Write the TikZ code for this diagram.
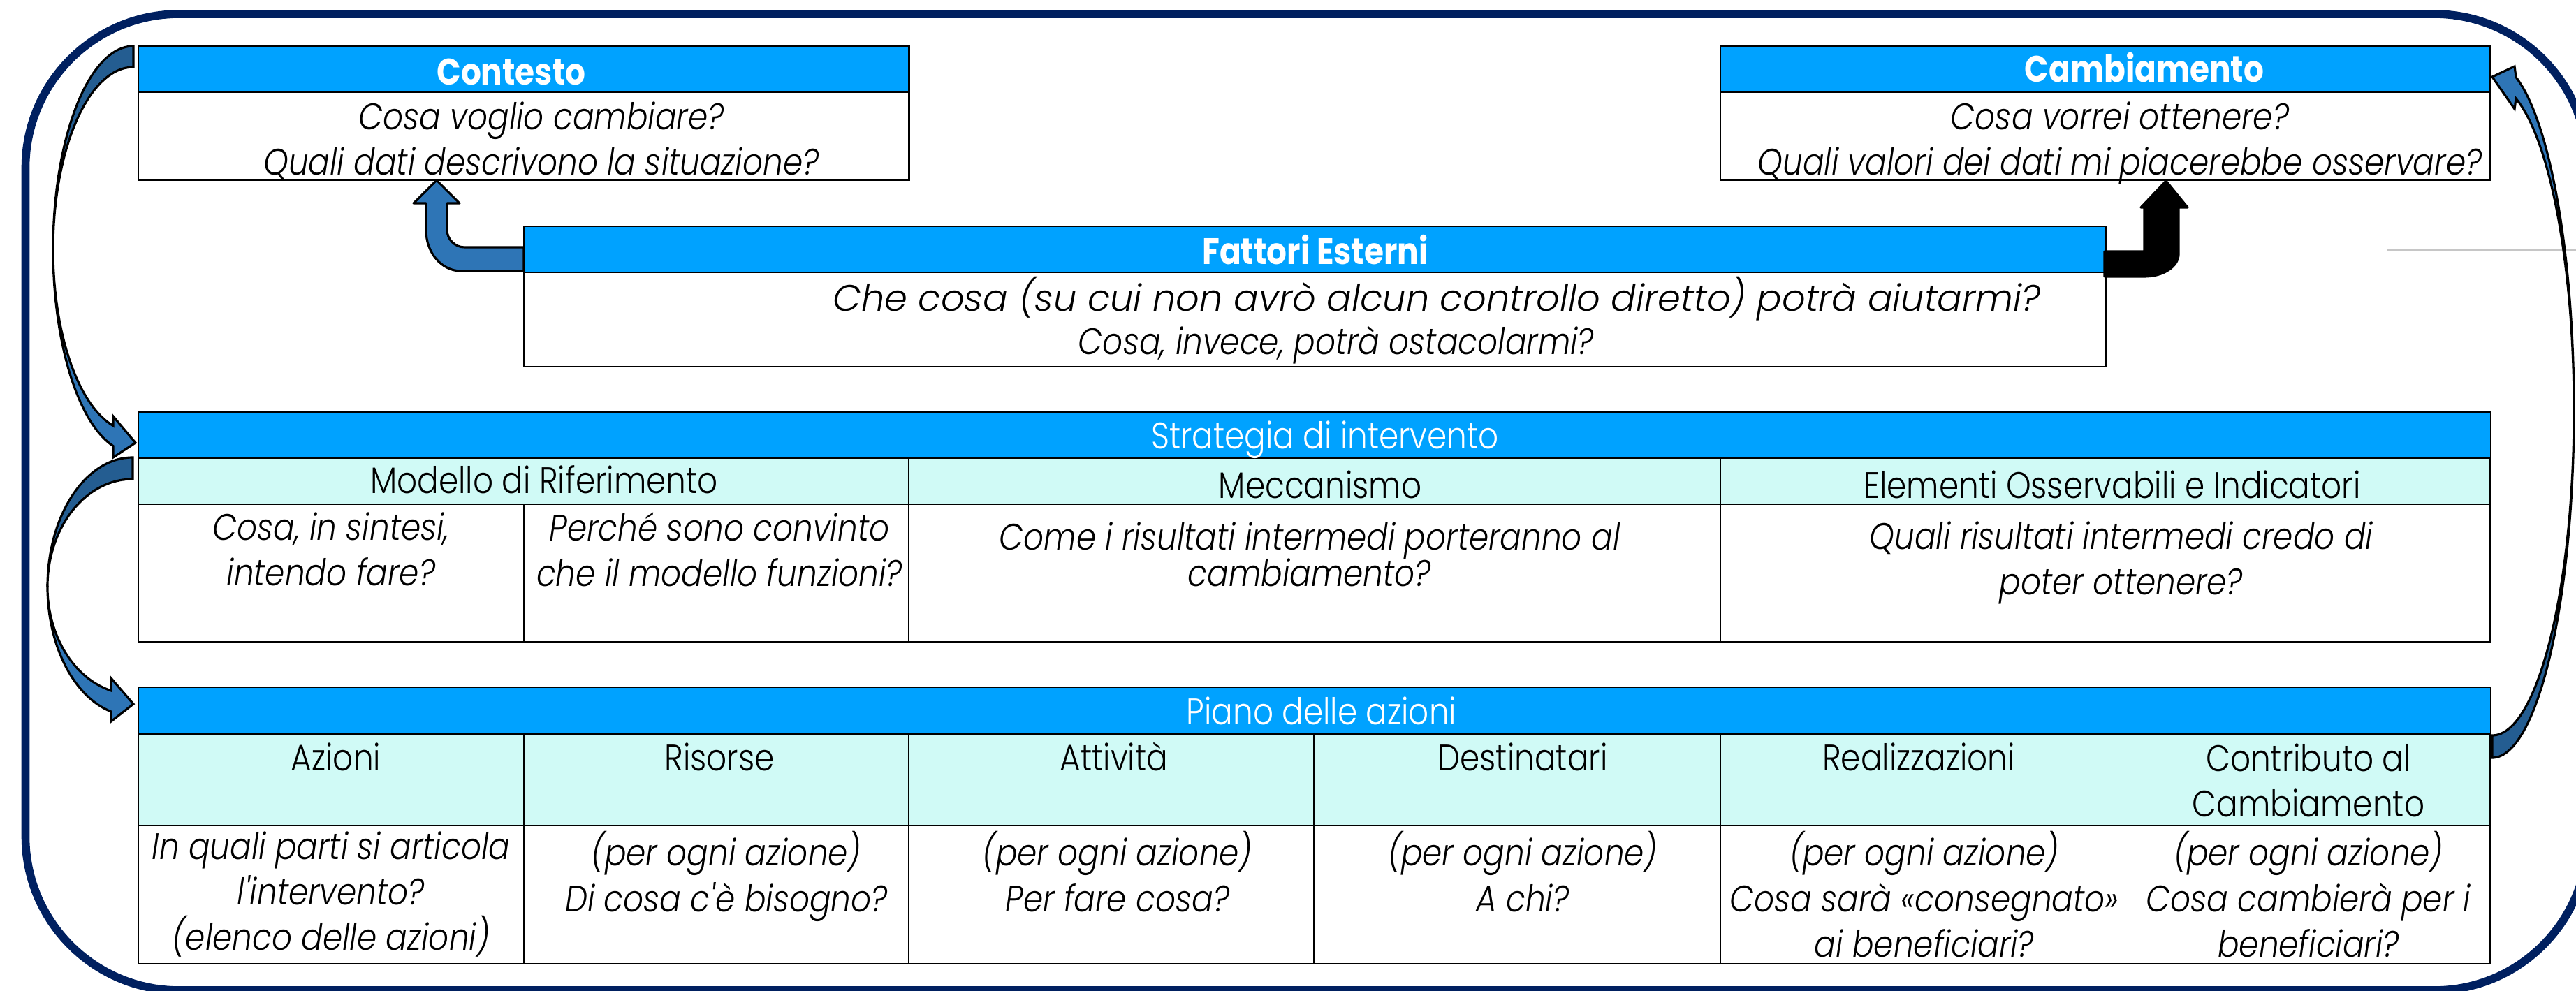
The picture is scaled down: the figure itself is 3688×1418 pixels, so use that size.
\documentclass[tikz,border=0pt]{standalone}
\usepackage{fontspec}
\setmainfont{Poppins}[FakeStretch=0.86, UprightFont=* Light, ItalicFont=* Light Italic, BoldFont=* Bold]
\usetikzlibrary{positioning,calc}
\definecolor{hdrblue}{HTML}{00A2FF}
\definecolor{subcyan}{HTML}{D0FAF6}
\definecolor{navy}{HTML}{002060}
\definecolor{arrblue}{HTML}{2E75B6}
\definecolor{arrdark}{HTML}{245D91}
\newcommand\mainsize{\fontsize{15pt}{18.5pt}\selectfont}

\begin{document}
\begin{tikzpicture}[x=0.01cm, y=-0.01cm,
    cell/.style={draw, line width=0.7pt, inner sep=0pt, outer sep=0pt, anchor=north west},
    hdr/.style={cell, fill=hdrblue},
    subh/.style={cell, fill=subcyan},
    bodyc/.style={cell, fill=white},
    htxt/.style={anchor=base, text=white, inner sep=0pt, font=\mainsize},
    stxt/.style={anchor=base, inner sep=0pt, font=\mainsize},
    btxt/.style={anchor=north, align=center, inner sep=0pt, font=\mainsize\itshape},
    outerframe/.style={draw=navy, line width=3.3pt, rounded corners=2.2cm},
    bandback/.style={fill=arrdark, draw=black, line width=0.9pt},
    bandfront/.style={fill=arrblue, draw=black, line width=0.9pt},
    elbowblue/.style={fill=arrblue, draw=black, line width=0.9pt, line join=round},
    elbowblack/.style={fill=black, draw=black, line width=0.9pt, line join=round}
]
\useasboundingbox (0,0) rectangle (3688,1418);

% Outer frame
\draw[outerframe] (36.5,20) rectangle (3705,1418);
\draw[gray!45, line width=0.5pt] (3417,358) -- (3700,358);

% Contesto
\node[hdr, minimum width=11.03cm, minimum height=0.66cm] (ctxh) at (198,66) {};
\node[bodyc, minimum width=11.03cm, minimum height=1.26cm] (ctxb) at (198,132) {};
\node[htxt, font=\mainsize\bfseries] (ctxl) at (732,121) {Contesto};
\node[btxt] (ctxt) at (775,145) {Cosa voglio cambiare?\\Quali dati descrivono la situazione?};

% Cambiamento
\node[hdr, minimum width=11.01cm, minimum height=0.66cm] (cbh) at (2463,66) {};
\node[bodyc, minimum width=11.01cm, minimum height=1.26cm] (cbb) at (2463,132) {};
\node[htxt, font=\mainsize\bfseries] (cbl) at (3070,117) {Cambiamento};
\node[btxt] (cbt) at (3035,145) {Cosa vorrei ottenere?\\Quali valori dei dati mi piacerebbe osservare?};

% Fattori Esterni
\node[hdr, minimum width=22.63cm, minimum height=0.66cm] (feh) at (750,324) {};
\node[bodyc, minimum width=22.63cm, minimum height=1.35cm] (feb) at (750,390) {};
\node[htxt, font=\mainsize\bfseries] (fel) at (1883,378) {Fattori Esterni};
\node[btxt, anchor=base] (fet1) at (2057,445) {\addfontfeature{FakeStretch=1}Che cosa (su cui non avrò alcun controllo diretto) potrà aiutarmi?};
\node[btxt, anchor=base] (fet2) at (1913,507) {Cosa, invece, potrà ostacolarmi?};

% Strategia di intervento
\node[hdr, minimum width=33.66cm, minimum height=0.66cm] (sth) at (198,590) {};
\node[subh, minimum width=11.03cm, minimum height=0.66cm] (sts1) at (198,656) {};
\node[subh, minimum width=11.62cm, minimum height=0.66cm] (sts2) at (1301,656) {};
\node[subh, minimum width=11.01cm, minimum height=0.66cm] (sts3) at (2463,656) {};
\node[bodyc, minimum width=5.52cm, minimum height=1.97cm] (stb1) at (198,722) {};
\node[bodyc, minimum width=5.51cm, minimum height=1.97cm] (stb2) at (750,722) {};
\node[bodyc, minimum width=11.62cm, minimum height=1.97cm] (stb3) at (1301,722) {};
\node[bodyc, minimum width=11.01cm, minimum height=1.97cm] (stb4) at (2463,722) {};
\node[htxt] (stl) at (1897,642) {Strategia di intervento};
\node[stxt] (sts1l) at (779,706) {Modello di Riferimento};
\node[stxt] (sts2l) at (1890,713) {Meccanismo};
\node[stxt] (sts3l) at (3024,713) {Elementi Osservabili e Indicatori};
\node[btxt] (stb1t) at (474,733) {Cosa, in sintesi,\\intendo fare?};
\node[btxt] (stb2t) at (1030,733) {Perché sono convinto\\che il modello funzioni?};
\node[btxt] (stb3t) at (1875,747) {Come i risultati intermedi porteranno al\\[-3.7pt]cambiamento?};
\node[btxt] (stb4t) at (3037,746) {Quali risultati intermedi credo di\\poter ottenere?};

% Piano delle azioni
\node[hdr, minimum width=33.66cm, minimum height=0.67cm] (pah) at (198,984) {};
\node[subh, minimum width=5.52cm, minimum height=1.31cm] (pas1) at (198,1051) {};
\node[subh, minimum width=5.51cm, minimum height=1.31cm] (pas2) at (750,1051) {};
\node[subh, minimum width=5.80cm, minimum height=1.31cm] (pas3) at (1301,1051) {};
\node[subh, minimum width=5.82cm, minimum height=1.31cm] (pas4) at (1881,1051) {};
\node[subh, minimum width=11.01cm, minimum height=1.31cm] (pas5) at (2463,1051) {};
\node[bodyc, minimum width=5.52cm, minimum height=1.98cm] (pab1) at (198,1182) {};
\node[bodyc, minimum width=5.51cm, minimum height=1.98cm] (pab2) at (750,1182) {};
\node[bodyc, minimum width=5.80cm, minimum height=1.98cm] (pab3) at (1301,1182) {};
\node[bodyc, minimum width=5.82cm, minimum height=1.98cm] (pab4) at (1881,1182) {};
\node[bodyc, minimum width=11.01cm, minimum height=1.98cm] (pab5) at (2463,1182) {};
\node[htxt] (pal) at (1892,1037) {Piano delle azioni};
\node[stxt] (pas1l) at (481,1103) {Azioni};
\node[stxt] (pas2l) at (1030,1103) {Risorse};
\node[stxt] (pas3l) at (1595,1103) {Attività};
\node[stxt] (pas4l) at (2180,1103) {Destinatari};
\node[stxt] (pas5l) at (2747,1103) {Realizzazioni};
\node[btxt, font=\mainsize] (pas6l) at (3305,1064) {Contributo al\\Cambiamento};
\node[btxt] (pab1t) at (474,1190) {In quali parti si articola\\l\textquotesingle intervento?\\(elenco delle azioni)};
\node[btxt] (pab2t) at (1040,1190) {(per ogni azione)\\Di cosa c\textquotesingle è bisogno?};
\node[btxt] (pab3t) at (1600,1190) {(per ogni azione)\\Per fare cosa?};
\node[btxt] (pab4t) at (2180,1190) {(per ogni azione)\\A chi?};
\node[btxt] (pab5t) at (2755,1190) {(per ogni azione)\\Cosa sarà «consegnato»\\ai beneficiari?};
\node[btxt] (pab6t) at (3305,1190) {(per ogni azione)\\Cosa cambierà per i\\beneficiari?};

% Curved arrow: Contesto -> Strategia
\draw[bandback] (191,66) arc[start angle=270, end angle=180, x radius=115, y radius=291]
    arc[start angle=180, end angle=270, x radius=115, y radius=261] -- cycle;
\draw[bandfront] (76,357) arc[start angle=180, end angle=104.6, x radius=115, y radius=291]
    -- (162,655) -- (194,634) -- (162,596) -- (162,609.6)
    arc[start angle=104.6, end angle=180, x radius=115, y radius=261] -- cycle;

% Curved arrow: Strategia -> Piano
\draw[bandback] (190,655) arc[start angle=270, end angle=180, x radius=122, y radius=185]
    arc[start angle=180, end angle=270, x radius=122, y radius=154] -- cycle;
\draw[bandfront] (68,840) arc[start angle=180, end angle=104.7, x radius=122, y radius=185]
    -- (159,1033) -- (191,1008) -- (159,971) -- (159,988.9)
    arc[start angle=104.7, end angle=180, x radius=122, y radius=154] -- cycle;

% Curved arrow: Piano -> Cambiamento
\draw[bandback] (3568,1085) arc[start angle=90, end angle=0, x radius=117, y radius=498]
    arc[start angle=0, end angle=90, x radius=117, y radius=466] -- cycle;
\draw[bandfront] (3685,587) arc[start angle=360, end angle=286.9, x radius=117, y radius=498]
    -- (3600,95) -- (3568,110) -- (3600,156) -- (3602,141.1)
    arc[start angle=286.9, end angle=360, x radius=117, y radius=466] -- cycle;

% Bent arrows from Fattori Esterni
\draw[elbowblue] (750,354) -- (665,354) arc[start angle=90, end angle=180, radius=25]
    -- (640,291) -- (658,291) -- (625,258) -- (592,291) -- (610,291) -- (610,330)
    arc[start angle=180, end angle=90, x radius=50, y radius=58] -- (750,388) -- cycle;
\draw[elbowblack] (3013,360) -- (3070,360) -- (3070,297) -- (3065,297) -- (3101,259)
    -- (3132,297) -- (3119,297) -- (3119,364)
    arc[start angle=0, end angle=90, x radius=49, y radius=32] -- (3013,396) -- cycle;

\end{tikzpicture}
\end{document}
